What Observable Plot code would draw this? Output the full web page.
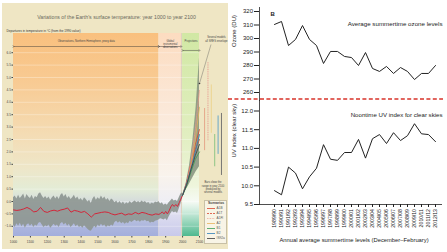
<!DOCTYPE html>
<html><head><meta charset="utf-8">
<script src="https://cdn.jsdelivr.net/npm/d3@7"></script>
<script src="https://cdn.jsdelivr.net/npm/@observablehq/plot@0.6"></script>
<style>
html,body{margin:0;padding:0;background:#fff;}
#wrap{position:relative;width:447px;height:252px;overflow:hidden;font-family:"Liberation Sans",Arial,sans-serif;}
#wrap > *{position:absolute;}
</style></head><body><div id="wrap"></div>
<script>
// ---------------- LEFT PANEL DATA ----------------
const leftTitle = "Variations of the Earth's surface temperature: year 1000 to year 2100";
const leftYLabel = "Departures in temperature in °C (from the 1990 value)";
const leftXTicks = [1000,1100,1200,1300,1400,1500,1600,1700,1800,1900,2000,2100];
const leftYTicks = [-1.0,-0.5,0.0,0.5,1.0,1.5,2.0,2.5,3.0,3.5,4.0,4.5,5.0,5.5,6.0];
const regionStarts = [1000, 1860, 1993, 2000];
const regionEnds   = [1860, 1993, 2000, 2100];
const headerLabels = ["Observations, Northern Hemisphere, proxy data", "Global\ninstrumental\nobservations", "Projections"];
const headerX = [1430, 1927, 2050];
const headerArrowFrom = [1000, 1860, 2000];
const headerArrowTo = [1860, 1993, 2100];
const headerArrowY = [6.25, 6.25, 6.09];

const bandYears = d3.range(1000, 2001, 10);
const bandHigh = [
 0.15,0.22,0.10,0.25,0.12,0.20,0.30,0.10,0.28,0.18,
 0.12,0.25,0.08,0.20,0.15,0.30,0.35,0.22,0.12,0.20,
 0.10,0.18,0.05,0.15,0.22,0.10,0.20,0.08,0.25,0.32,
 0.18,0.28,0.12,0.20,0.08,0.15,0.25,0.10,0.18,0.05,
 0.12,0.02,0.15,0.08,-0.02,0.05,-0.08,0.10,0.20,0.05,
 0.15,0.08,0.22,0.10,0.18,0.05,0.12,0.00,0.10,0.05,
 -0.05,0.02,-0.08,0.00,-0.10,-0.02,-0.12,-0.05,-0.10,0.00,
 -0.08,-0.02,0.02,-0.05,0.00,-0.06,0.02,-0.04,0.00,-0.08,
 -0.04,-0.12,-0.06,-0.10,-0.02,-0.05,0.00,-0.10,-0.05,-0.15,
 -0.10,-0.15,-0.05,0.02,0.10,0.02,0.05,0.00,0.15,0.30,
 0.35];
const bandLow = [
 -0.95,-1.05,-0.90,-1.00,-0.88,-1.02,-0.92,-1.08,-0.95,-0.90,
 -1.00,-0.92,-1.05,-0.95,-1.00,-0.88,-0.85,-0.95,-1.05,-0.98,
 -1.02,-0.95,-1.08,-1.00,-0.92,-1.00,-0.95,-1.05,-0.90,-0.85,
 -0.95,-0.88,-1.00,-0.92,-1.05,-0.98,-0.90,-1.02,-0.95,-1.05,
 -1.00,-1.08,-0.98,-1.05,-1.12,-1.18,-1.20,-1.10,-1.00,-1.08,
 -0.95,-1.02,-0.92,-1.00,-0.95,-1.05,-0.98,-1.02,-0.95,-1.00,
 -0.85,-0.80,-0.88,-0.82,-0.90,-0.85,-0.92,-0.86,-0.90,-0.80,
 -0.85,-0.80,-0.76,-0.82,-0.78,-0.84,-0.78,-0.80,-0.76,-0.82,
 -0.80,-0.88,-0.84,-0.86,-0.80,-0.78,-0.75,-0.70,-0.72,-0.75,
 -0.70,-0.78,-0.62,-0.50,-0.40,-0.45,-0.42,-0.48,-0.30,-0.10,
 0.15];

const redYears = [1000,1020,1040,1060,1080,1100,1120,1140,1160,1180,1200,1220,1240,1260,1280,1300,1320,1340,1360,1380,1400,1420,1440,1460,1480,1500,1520,1540,1560,1580,1600,1620,1640,1660,1680,1700,1720,1740,1760,1780,1800,1820,1840,1860,1870,1880,1890,1900,1910,1920,1930,1940,1950,1960,1970,1980,1990,2000];
const redValues = [-0.34,-0.36,-0.34,-0.30,-0.24,-0.31,-0.42,-0.39,-0.24,-0.40,-0.44,-0.38,-0.35,-0.39,-0.34,-0.31,-0.26,-0.43,-0.36,-0.39,-0.44,-0.40,-0.50,-0.63,-0.50,-0.47,-0.44,-0.42,-0.44,-0.50,-0.54,-0.50,-0.47,-0.55,-0.50,-0.52,-0.44,-0.50,-0.44,-0.47,-0.52,-0.55,-0.50,-0.52,-0.48,-0.42,-0.50,-0.40,-0.50,-0.38,-0.22,-0.12,-0.20,-0.12,-0.20,-0.05,0.10,0.25];

const envYears = [2000, 2020, 2040, 2060, 2080, 2100];
const envHigh = [0.25, 0.70, 1.40, 2.40, 3.80, 5.80];
const envLow  = [0.25, 0.45, 0.70, 0.95, 1.20, 1.40];

const scenYears = [2000, 2025, 2050, 2075, 2100];
const scenNames = ["A1B", "A1T", "A1FI", "A2", "B1", "B2", "IS92a"];
const scenValues = [
  [0.25, 0.75, 1.55, 2.30, 2.90],
  [0.25, 0.80, 1.55, 2.10, 2.50],
  [0.25, 0.75, 1.60, 2.90, 4.50],
  [0.25, 0.70, 1.40, 2.50, 3.80],
  [0.25, 0.65, 1.20, 1.70, 2.00],
  [0.25, 0.75, 1.35, 2.00, 2.70],
  [0.25, 0.70, 1.30, 1.85, 2.30]];
const scenColors = ["#d9452f", "#d9452f", "#e8998a", "#e9b25c", "#3a9a55", "#2e7fb8", "#3a3a3a"];
const scenDash = [null, "2,1", "0.8,0.8", null, null, null, null];

const barNames = ["A1B", "A1FI", "A2", "B1", "B2", "IS92a"];
const barLow  = [2.05, 2.45, 2.75, 1.40, 1.90, 1.05];
const barHigh = [3.75, 5.60, 4.70, 2.70, 3.45, 3.55];
const barColors = ["#e3a085", "#e6948c", "#ecd38c", "#82c27f", "#5aa0c8", "#6a6a6a"];
const barDash = [null, "1,0.8", null, null, null, null];
const barsNote = "Bars show the\nrange in year 2100\nproduced by\nseveral models";
const modelsNote = "Several models\nall SRES envelope";

// ---------------- RIGHT PANEL DATA ----------------
const seasons = ["1989/90","1990/91","1991/92","1992/93","1993/94","1994/95","1995/96","1996/97","1997/98","1998/99","1999/00","2000/01","2001/02","2002/03","2003/04","2004/05","2005/06","2006/07","2007/08","2008/09","2009/10","2010/11","2011/12","2012/13"];
const ozone = [310.4,312.6,294.8,299.3,309.6,299.3,294.8,281.5,290.4,290.4,286.7,285.9,280.0,289.6,277.8,275.6,279.3,274.1,278.5,275.6,269.6,274.1,274.1,280.0];
const uvIndex = [9.87,9.76,10.50,10.34,9.92,10.24,10.47,11.10,10.71,10.68,10.89,10.89,11.24,10.74,11.26,11.37,11.13,11.42,11.21,11.34,11.66,11.39,11.37,11.18];
const ozoneTicks = [260,270,280,290,300,310,320];
const uvTicks = [9.5,10.0,10.5,11.0,11.5,12.0];

// ---------------- BUILD ----------------
const F = "Liberation Sans, Arial, Helvetica, sans-serif";
const wrap = d3.select("#wrap");
const wrapEl = document.getElementById("wrap");

wrap.append("div").style("left","2px").style("top","3px").style("width","226px").style("height","246px").style("background","#efe6c4");

const regionFills = ["url(#gObs)", "url(#gInst)", "#d9c9be", "url(#gProj)"];
const band = bandYears.map((yr,i)=>({yr, lo: bandLow[i], hi: bandHigh[i]}));
const red = redYears.map((yr,i)=>({yr, v: redValues[i]}));
const env = envYears.map((yr,i)=>({yr, lo: envLow[i], hi: envHigh[i]}));

const leftMarks = [];
regionStarts.forEach((s,i)=>leftMarks.push(Plot.rect([{x1:s, x2:regionEnds[i]}], {x1:"x1", x2:"x2", fill: regionFills[i], fillOpacity: i===2?0.7:1})));
leftMarks.push(Plot.gridY(leftYTicks, {stroke:"#fff", strokeOpacity:0.6, strokeWidth:0.5}));
leftMarks.push(Plot.areaY(band, {x:"yr", y1:"lo", y2:"hi", fill:"#8e9792", fillOpacity:0.92}));
leftMarks.push(Plot.line(red, {x:"yr", y:"v", stroke:"#d3263a", strokeWidth:1}));
leftMarks.push(Plot.areaY(env, {x:"yr", y1:"lo", y2:"hi", fill:"#85927e", fillOpacity:0.85}));
scenNames.forEach((n,i)=>leftMarks.push(Plot.line(scenYears.map((yr,j)=>({yr, v: scenValues[i][j]})), {x:"yr", y:"v", stroke: scenColors[i], strokeWidth:0.8, strokeDasharray: scenDash[i]})));
barNames.forEach((n,i)=>leftMarks.push(Plot.ruleX([{x: 2130 + i*20, lo: barLow[i], hi: barHigh[i]}], {x:"x", y1:"lo", y2:"hi", stroke: barColors[i], strokeWidth:0.9, strokeDasharray: barDash[i]})));
leftMarks.push(Plot.text([barsNote], {x: 2180, y: 0.58, fontSize: 2.7, lineHeight: 1.2, fill:"#444"}));
leftMarks.push(Plot.text([modelsNote], {x: 2200, y: 6.55, fontSize: 2.7, lineHeight: 1.2, fill:"#444"}));
leftMarks.push(Plot.link([{x1:2168, y1:6.33, x2:2100, y2:4.76}], {x1:"x1", y1:"y1", x2:"x2", y2:"y2", stroke:"#555", strokeWidth:0.4}));
leftMarks.push(Plot.dot([{x:2100, y:4.76}], {x:"x", y:"y", r:0.8, fill:"#333"}));
headerLabels.forEach((t,i)=>leftMarks.push(Plot.text([t], {x: headerX[i], frameAnchor:"top", dy: 6, fontSize: i===0?2.7:2.6, lineHeight:1.25, fill:"#444"})));
headerArrowFrom.forEach((s,i)=>leftMarks.push(Plot.link([{a:s, b:headerArrowTo[i], y:headerArrowY[i]}], {x1:"a", x2:"b", y1:"y", y2:"y", stroke:"#333", strokeWidth:0.45, markerStart:"arrow", markerEnd:"arrow"})));
leftMarks.push(Plot.axisX({ticks: leftXTicks, tickFormat:"d", tickSize:1.5, tickPadding:2.5, fontSize:3.3, label:null, fill:"#444"}));
leftMarks.push(Plot.axisY({ticks: leftYTicks, tickFormat:".1f", tickSize:1.5, tickPadding:1, fontSize:3.2, label:null, fill:"#444"}));
leftMarks.push(Plot.text([leftTitle], {frameAnchor:"top", dx:10, dy:-18, fontSize:5.2, fill:"#6b6b60"}));
leftMarks.push(Plot.text([leftYLabel], {frameAnchor:"top-left", dx:-7, dy:-4, textAnchor:"start", fontSize:3.1, fill:"#333"}));

const leftPlot = Plot.plot({
  width: 228, height: 252,
  marginLeft: 13, marginRight: 29, marginTop: 33, marginBottom: 16,
  x: {domain:[1000,2100], range:[13,199]},
  y: {domain:[0,6], range:[201, 52.2]},
  style: {background:"transparent", fontFamily:F, fontSize:"3.3px", color:"#444", overflow:"visible"},
  marks: leftMarks
});
d3.select(leftPlot).insert("defs", ":first-child").html(`
<linearGradient id="gObs" x1="0" y1="0" x2="0" y2="1">
 <stop offset="0" stop-color="#f9c07e"/><stop offset="0.25" stop-color="#f8cb94"/>
 <stop offset="0.5" stop-color="#f4dcb4"/><stop offset="0.66" stop-color="#eee6c8"/>
 <stop offset="0.77" stop-color="#e3ecd6"/><stop offset="0.86" stop-color="#cdd3df"/>
 <stop offset="0.94" stop-color="#b0b9de"/><stop offset="1" stop-color="#a3aedc"/>
</linearGradient>
<linearGradient id="gInst" x1="0" y1="0" x2="0" y2="1">
 <stop offset="0" stop-color="#fcdcc0"/><stop offset="0.4" stop-color="#fbe9da"/>
 <stop offset="0.7" stop-color="#f9f3ec"/><stop offset="0.83" stop-color="#eeeef4"/>
 <stop offset="0.9" stop-color="#dcdcf0"/><stop offset="1" stop-color="#c8c9ea"/>
</linearGradient>
<linearGradient id="gProj" x1="0" y1="0" x2="0" y2="1">
 <stop offset="0" stop-color="#d1e8a4"/><stop offset="0.5" stop-color="#e1eec0"/>
 <stop offset="0.75" stop-color="#eef5dc"/><stop offset="0.83" stop-color="#f6faf4"/>
 <stop offset="0.88" stop-color="#cdebdc"/><stop offset="1" stop-color="#4fb98f"/>
</linearGradient>`);
leftPlot.style.left = "0px"; leftPlot.style.top = "0px";
wrapEl.appendChild(leftPlot);

// legend (HTML)
const leg = wrap.append("div").style("left","204px").style("top","200px").style("width","23px").style("height","44px")
  .style("background","#f8f4e6").style("border","0.5px solid #c8c0a6").style("box-sizing","border-box")
  .style("font-size","3.2px").style("color","#555").style("font-family",F);
leg.append("div").text("Scenarios").style("font-weight","bold").style("height","5px").style("line-height","5px").style("padding-left","3px").style("color","#444").style("font-size","3.4px");
scenNames.forEach((n,i)=>{
  const row = leg.append("div").style("position","relative").style("height","5px").style("line-height","5px");
  const s = row.append("svg").attr("width",8).attr("height",5).style("position","absolute").style("left","2px").style("top","0px");
  s.append("line").attr("x1",0).attr("x2",8).attr("y1",2.5).attr("y2",2.5).attr("stroke",scenColors[i]).attr("stroke-width",0.8).attr("stroke-dasharray",scenDash[i]||null);
  row.append("span").text(n).style("position","absolute").style("left","11.5px");
});

// ---- right panel ----
const ozData = seasons.map((s,i)=>({s, v: ozone[i]}));
const uvData = seasons.map((s,i)=>({s, v: uvIndex[i]}));
const rStyle = {background:"transparent", fontFamily:F, fontSize:"6px", color:"#222", overflow:"visible"};

const ozPlot = Plot.plot({
  width:219, height:100, marginLeft:31, marginRight:5, marginTop:7, marginBottom:0,
  x:{type:"point", domain:seasons, range:[39,214], axis:null},
  y:{domain:[260,320], range:[92,11]},
  style: rStyle,
  marks:[
    Plot.frame({anchor:"left", stroke:"#222", strokeWidth:0.8}),
    Plot.axisY({ticks: ozoneTicks, tickSize:5, tickPadding:1.5, fontSize:6, label:null}),
    Plot.line(ozData, {x:"s", y:"v", stroke:"#222", strokeWidth:1}),
    Plot.text(["Average summertime ozone levels"], {frameAnchor:"top-right", dy:14, textAnchor:"end", fontSize:6.2}),
    Plot.text(["B"], {frameAnchor:"top-left", dx:11, dy:4.5, fontWeight:"bold", fontSize:6}),
    Plot.text(["Ozone (DU)"], {frameAnchor:"left", dx:-25, dy:-7, rotate:-90, fontSize:6})
  ]
});
ozPlot.style.left = "228px"; ozPlot.style.top = "0px";
wrapEl.appendChild(ozPlot);

const uvPlot = Plot.plot({
  width:219, height:152, marginLeft:31, marginRight:5, marginTop:0, marginBottom:48,
  x:{type:"point", domain:seasons, range:[39,214]},
  y:{domain:[9.5,12], range:[104,10.5]},
  style: rStyle,
  marks:[
    Plot.frame({anchor:"left", stroke:"#222", strokeWidth:0.8}),
    Plot.ruleY([9.5], {stroke:"#222", strokeWidth:0.8}),
    Plot.axisY({ticks: uvTicks, tickFormat: d3.format(".1f"), tickSize:5, tickPadding:1.5, fontSize:6, label:null}),
    Plot.axisX({tickRotate:-90, tickSize:3, tickPadding:1.5, fontSize:5.2, label:null}),
    Plot.line(uvData, {x:"s", y:"v", stroke:"#222", strokeWidth:1}),
    Plot.text(["Noontime UV index for clear skies"], {frameAnchor:"top-right", dy:12, textAnchor:"end", fontSize:6.1}),
    Plot.text(["UV index (clear sky)"], {frameAnchor:"left", dx:-25, dy:5, rotate:-90, fontSize:6}),
    Plot.text(["Annual average summertime levels (December–February)"], {frameAnchor:"bottom", dx:3, dy:37, fontSize:5.8})
  ]
});
uvPlot.style.left = "228px"; uvPlot.style.top = "100px";
wrapEl.appendChild(uvPlot);

// red dashed separator
const sep = wrap.append("svg").attr("width",219).attr("height",4).style("left","228px").style("top","97px");
sep.append("line").attr("x1",0).attr("x2",215).attr("y1",2).attr("y2",2).attr("stroke","#d8332a").attr("stroke-width",1.3).attr("stroke-dasharray","4 2.4");
</script></body></html>
